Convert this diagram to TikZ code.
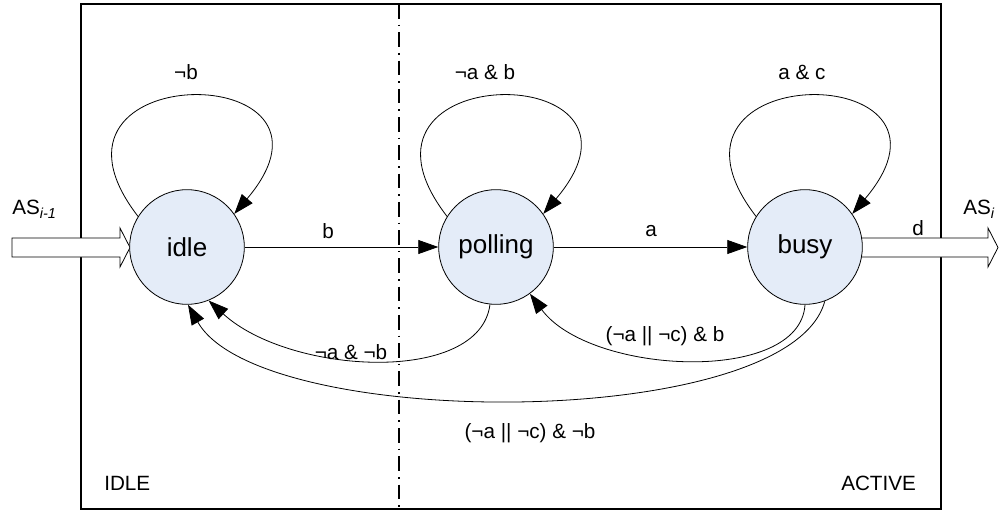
\documentclass[tikz,border=0pt]{standalone}
\usepackage{fontspec}
\setmainfont{Liberation Sans}
\usetikzlibrary{arrows.meta,calc}
\definecolor{stfill}{RGB}{228,236,248}
\begin{document}
\begin{tikzpicture}[x=0.75pt,y=-0.75pt,
  state/.style={circle,draw=black,line width=0.6pt,fill=stfill,minimum size=86pt,inner sep=0pt,
    font=\fontsize{19.5}{22}\selectfont},
  trans/.style={draw,line width=0.6pt,-{Triangle[length=15pt,width=10.5pt]}},
  lbl/.style={font=\fontsize{15.5}{18}\selectfont,inner sep=0pt},
  bigarrow/.style={draw=black,line width=0.6pt,fill=white},
  frame/.style={draw=black,line width=1.5pt},
  divider/.style={draw=black,line width=1.2pt,dash pattern=on 11pt off 4.5pt on 1.2pt off 4.5pt}
]
\useasboundingbox (0,0) rectangle (999,510);
% frame and divider
\draw[frame] (81,4) rectangle (941,509);
\coordinate (dtop) at (399,4);
\coordinate (dbot) at (399,509);
\draw[divider] (dtop) -- (dbot);
% hollow arrows
\draw[bigarrow] (12,238) -- (120,238) -- (120,228) -- (130,247.5) -- (120,267) -- (120,257) -- (12,257) -- cycle;
\draw[bigarrow] (850,238) -- (988,238) -- (988,228) -- (998,247.5) -- (988,267) -- (988,257) -- (850,257) -- cycle;
% states
\node[state] (idle) at (187,247) {idle};
\node[state] (polling) at (496,247) {polling};
\node[state] (busy) at (805,247) {busy};
% straight transitions
\draw[trans] (idle) -- (polling);
\draw[trans] (polling) -- (busy);
% self loops
\draw[trans] (idle.148) .. controls ($(idle)+(-172,-190)$) and ($(idle)+(180,-190)$) .. (idle.35);
\draw[trans] (polling.148) .. controls ($(polling)+(-172,-190)$) and ($(polling)+(180,-190)$) .. (polling.35);
\draw[trans] (busy.148) .. controls ($(busy)+(-172,-190)$) and ($(busy)+(180,-190)$) .. (busy.35);
% return transitions
\draw[trans] (polling.264) .. controls (480,385) and (290,375) .. (idle.292);
\draw[trans] (busy.270) .. controls (800,385) and (590,375) .. (polling.306);
\draw[trans] (busy.290) .. controls (790,432) and (260,432) .. (idle.271);
% labels
\node[lbl] (lb) at (328,231) {b};
\node[lbl] (la) at (651,231) {a};
\node[lbl] (ld) at (918,228) {d};
\node[lbl] (lnb) at (186,72) {¬b};
\node[lbl] (lnab) at (485,72) {¬a \& b};
\node[lbl] (lac) at (802,72) {a \& c};
\node[lbl] (lnanb) at (351,352) {¬a \& ¬b};
\node[lbl] (lor1) at (665,336) {(¬a || ¬c) \& b};
\node[lbl] (lor2) at (530,433) {(¬a || ¬c) \& ¬b};
\node[lbl,anchor=west] (asin) at (12,209) {AS\textsubscript{\textit{i-1}}};
\node[lbl,anchor=west] (asout) at (963,209) {AS\textsubscript{\textit{i}}};
\node[lbl,anchor=west] (lidle) at (104,483) {IDLE};
\node[lbl,anchor=west] (lactive) at (841,483) {ACTIVE};
\end{tikzpicture}
\end{document}
